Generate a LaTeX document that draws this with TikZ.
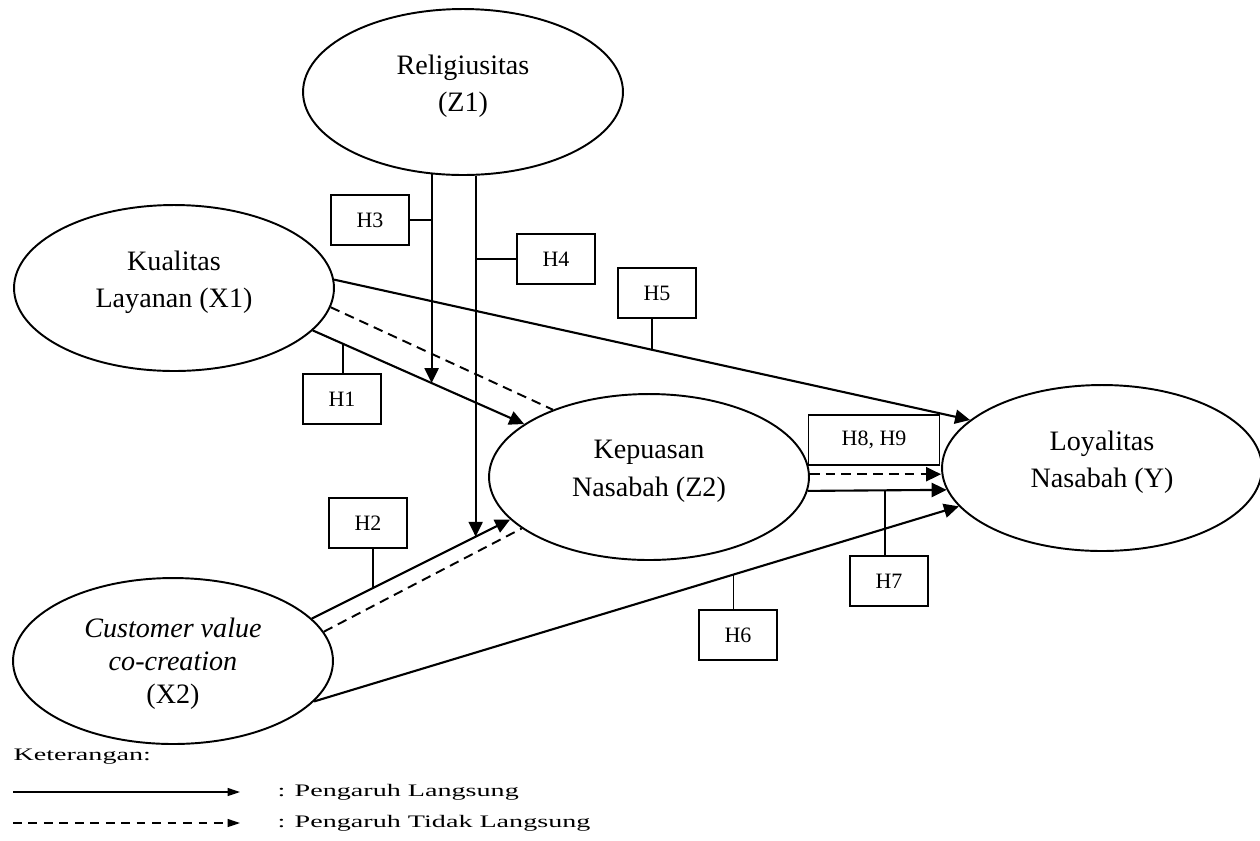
\documentclass[tikz,border=0pt]{standalone}
\usepackage{fontspec}
\setmainfont{Liberation Serif}
\usetikzlibrary{arrows.meta,calc,shapes.geometric}

\begin{document}
\begin{tikzpicture}[
    x=0.02cm,
    y=-0.02cm,
    var/.style={ellipse, draw, line width=1.1pt, minimum width=6.4cm, minimum height=3.32cm, inner sep=0pt, align=center, text depth=10pt, font=\fontsize{16}{21.5}\selectfont},
    hyp/.style={rectangle, draw, line width=0.9pt, minimum width=1.56cm, minimum height=1cm, inner sep=0pt, font=\fontsize{12.5}{15}\selectfont},
    arrow/.style={-{Triangle[length=8.5pt,width=8pt]}, line width=1.2pt},
    indirect/.style={line width=1.1pt, dash pattern=on 5.5pt off 3.5pt},
    stub/.style={line width=0.75pt},
    note/.style={anchor=west, inner sep=0pt, xscale=1.6, font=\fontsize{10}{12}\selectfont},
    key/.style={line width=0.75pt, -{Triangle[length=7pt,width=4.5pt]}}
]
\useasboundingbox (0,0) rectangle (1260,840);

% Variables
\node[var] (religi) at (463,92) {Religiusitas\\(Z1)};
\node[var] (kualitas) at (174,288) {Kualitas\\Layanan (X1)};
\node[var, text depth=-4pt, font=\fontsize{16}{18.7}\selectfont] (cvc) at (173,661) {\textit{Customer value}\\\textit{co-creation}\\(X2)};
\node[var] (kepuasan) at (649,477) {Kepuasan\\Nasabah (Z2)};
\node[var] (loyal) at (1102,468) {Loyalitas\\Nasabah (Y)};

% Hypotheses
\node[hyp] (h1) at (342,399) {H1};
\node[hyp] (h2) at (368,523) {H2};
\node[hyp] (h3) at (370,220) {H3};
\node[hyp] (h4) at (556,259) {H4};
\node[hyp] (h5) at (657,293) {H5};
\node[hyp] (h6) at (738,635) {H6};
\node[hyp] (h7) at (889,581) {H7};
\node[hyp, minimum width=2.62cm] (h89) at (874,440) {H8, H9};

% Direct paths
\draw[arrow] (kualitas.-17.6) -- (kepuasan.157.6);
\draw[arrow] (kualitas.3.2) -- (loyal.160);
\draw[arrow] (cvc.17.1) -- (kepuasan.-163.8);
\draw[arrow] (cvc.-16.8) -- (loyal.-165.9);
\draw[arrow] (kepuasan.-5) -- (loyal.-172.7);

% Indirect paths
\draw[indirect] (kualitas.-7.3) -- (kepuasan.145.4);
\draw[indirect] (cvc.11.5) -- (kepuasan.-158.3);
\draw[arrow, indirect] (kepuasan.1.4) -- (kepuasan.1.4 -| loyal.west);

% Moderation
\coordinate (m1) at ($(kualitas.-17.6)!0.562!(kepuasan.157.6)$);
\coordinate (m2) at ($(cvc.17.1)!0.826!(kepuasan.-163.8)$);
\draw[arrow] (m1 |- religi.-111) -- (m1);
\draw[arrow] (m2 |- religi.-82.5) -- (m2);

% Label stubs
\coordinate (s1) at ($(kualitas.-17.6)!0.143!(kepuasan.157.6)$);
\coordinate (s2) at ($(cvc.17.1)!0.308!(kepuasan.-163.8)$);
\coordinate (s5) at ($(kualitas.3.2)!0.5!(loyal.160)$);
\coordinate (s6) at ($(cvc.-16.8)!0.651!(loyal.-165.9)$);
\coordinate (s7) at ($(kepuasan.-5)!0.556!(loyal.-172.7)$);
\draw[stub] (s1) -- (s1 |- h1.north);
\draw[stub] (s2) -- (s2 |- h2.south);
\draw[stub] (h3.east) -- (h3.east -| m1);
\draw[stub] (h4.west) -- (h4.west -| m2);
\draw[stub] (s5) -- (s5 |- h5.south);
\draw[stub] (s6) -- (s6 |- h6.north);
\draw[stub] (s7) -- (s7 |- h7.north);

% Legend
\node[note] (ket) at (13,757) {Keterangan:};
\coordinate (k1a) at (13,792);
\coordinate (k1b) at (240,792);
\coordinate (k2a) at (13,823);
\coordinate (k2b) at (240,823);
\draw[key] (k1a) -- (k1b);
\draw[key, dash pattern=on 5pt off 3.8pt] (k2a) -- (k2b);
\node[note] (langsung) at (277,792) {: Pengaruh Langsung};
\node[note] (tidak) at (277,823) {: Pengaruh Tidak Langsung};

\end{tikzpicture}
\end{document}
